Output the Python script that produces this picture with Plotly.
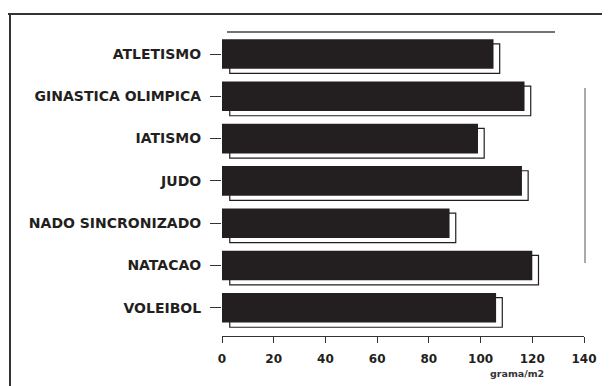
import plotly.graph_objects as go

categories = ["ATLETISMO", "GINASTICA OLIMPICA", "IATISMO", "JUDO",
              "NADO SINCRONIZADO", "NATACAO", "VOLEIBOL"]
values = [105, 117, 99, 116, 88, 120, 106]
x_ticks = [0, 20, 40, 60, 80, 100, 120, 140]
x_unit = "grama/m2"

ink = "#231f20"
shadow_dx = 2.4
shadow_base = 3

fig = go.Figure()
# 3D shadow behind each bar
fig.add_trace(go.Bar(
    y=categories, x=[v + shadow_dx - shadow_base for v in values], base=shadow_base,
    orientation="h", width=0.70, offset=-0.35 + 0.11,
    marker=dict(color="white", line=dict(color=ink, width=1.2)),
    hoverinfo="skip", showlegend=False))
# front bars
fig.add_trace(go.Bar(
    y=categories, x=values, orientation="h", width=0.70, offset=-0.35,
    marker=dict(color=ink, line=dict(color=ink, width=0)),
    showlegend=False))

# the page body adds an 8px offset; target positions are in window pixels
OFF = 8
W, H = 610, 386
plot_left, plot_right, plot_top, plot_bottom = 222, 584, 32, 336
L = plot_left - OFF
R = W - (plot_right - OFF)
T = plot_top - OFF
B = H - (plot_bottom - OFF)
pw, ph = plot_right - plot_left, plot_bottom - plot_top

def px(xp):
    return (xp - plot_left) / pw

def py(yp):
    return (plot_bottom - yp) / ph

shapes = [
    # outer frame
    dict(type="line", xref="paper", yref="paper", x0=px(8), x1=px(612), y0=py(14), y1=py(14),
         line=dict(color="#333", width=2)),
    dict(type="line", xref="paper", yref="paper", x0=px(10), x1=px(10), y0=py(14), y1=py(390),
         line=dict(color="#333", width=2)),
    # inner top line
    dict(type="line", xref="paper", yref="paper", x0=px(227), x1=px(555), y0=1, y1=1,
         line=dict(color="#444", width=1.5)),
    # right broken line
    dict(type="line", xref="paper", yref="paper", x0=px(585), x1=px(585), y0=py(88), y1=py(263),
         line=dict(color="#555", width=1)),
]

fig.update_layout(
    width=W, height=H,
    margin=dict(l=L, r=R, t=T, b=B, pad=0),
    paper_bgcolor="white", plot_bgcolor="white",
    barmode="overlay",
    shapes=shapes,
    font=dict(family="DejaVu Sans", color=ink),
    xaxis=dict(range=[0, 140], tickvals=x_ticks, ticktext=[str(t) for t in x_ticks],
               showgrid=False, zeroline=False, showline=True, linecolor="#333", linewidth=1.2,
               ticks="outside", ticklen=6, tickcolor="#333", tickwidth=1,
               tickfont=dict(family="DejaVu Sans", size=12, color=ink, weight="bold"),
               ticklabelstandoff=5),
    yaxis=dict(categoryorder="array", categoryarray=categories,
               range=[6.667, -0.52], showgrid=False, zeroline=False, showline=False,
               ticks="outside", ticklen=11, tickcolor="#333", tickwidth=1,
               tickfont=dict(family="DejaVu Sans", size=14, color=ink, weight="bold"),
               ticklabelstandoff=6),
    annotations=[dict(text=x_unit, xref="paper", yref="paper", x=px(517), y=py(373),
                      showarrow=False, xanchor="center", yanchor="middle",
                      font=dict(family="DejaVu Sans", size=9.5, color="#333", weight="bold"))],
)

fig.write_html("out.html")
